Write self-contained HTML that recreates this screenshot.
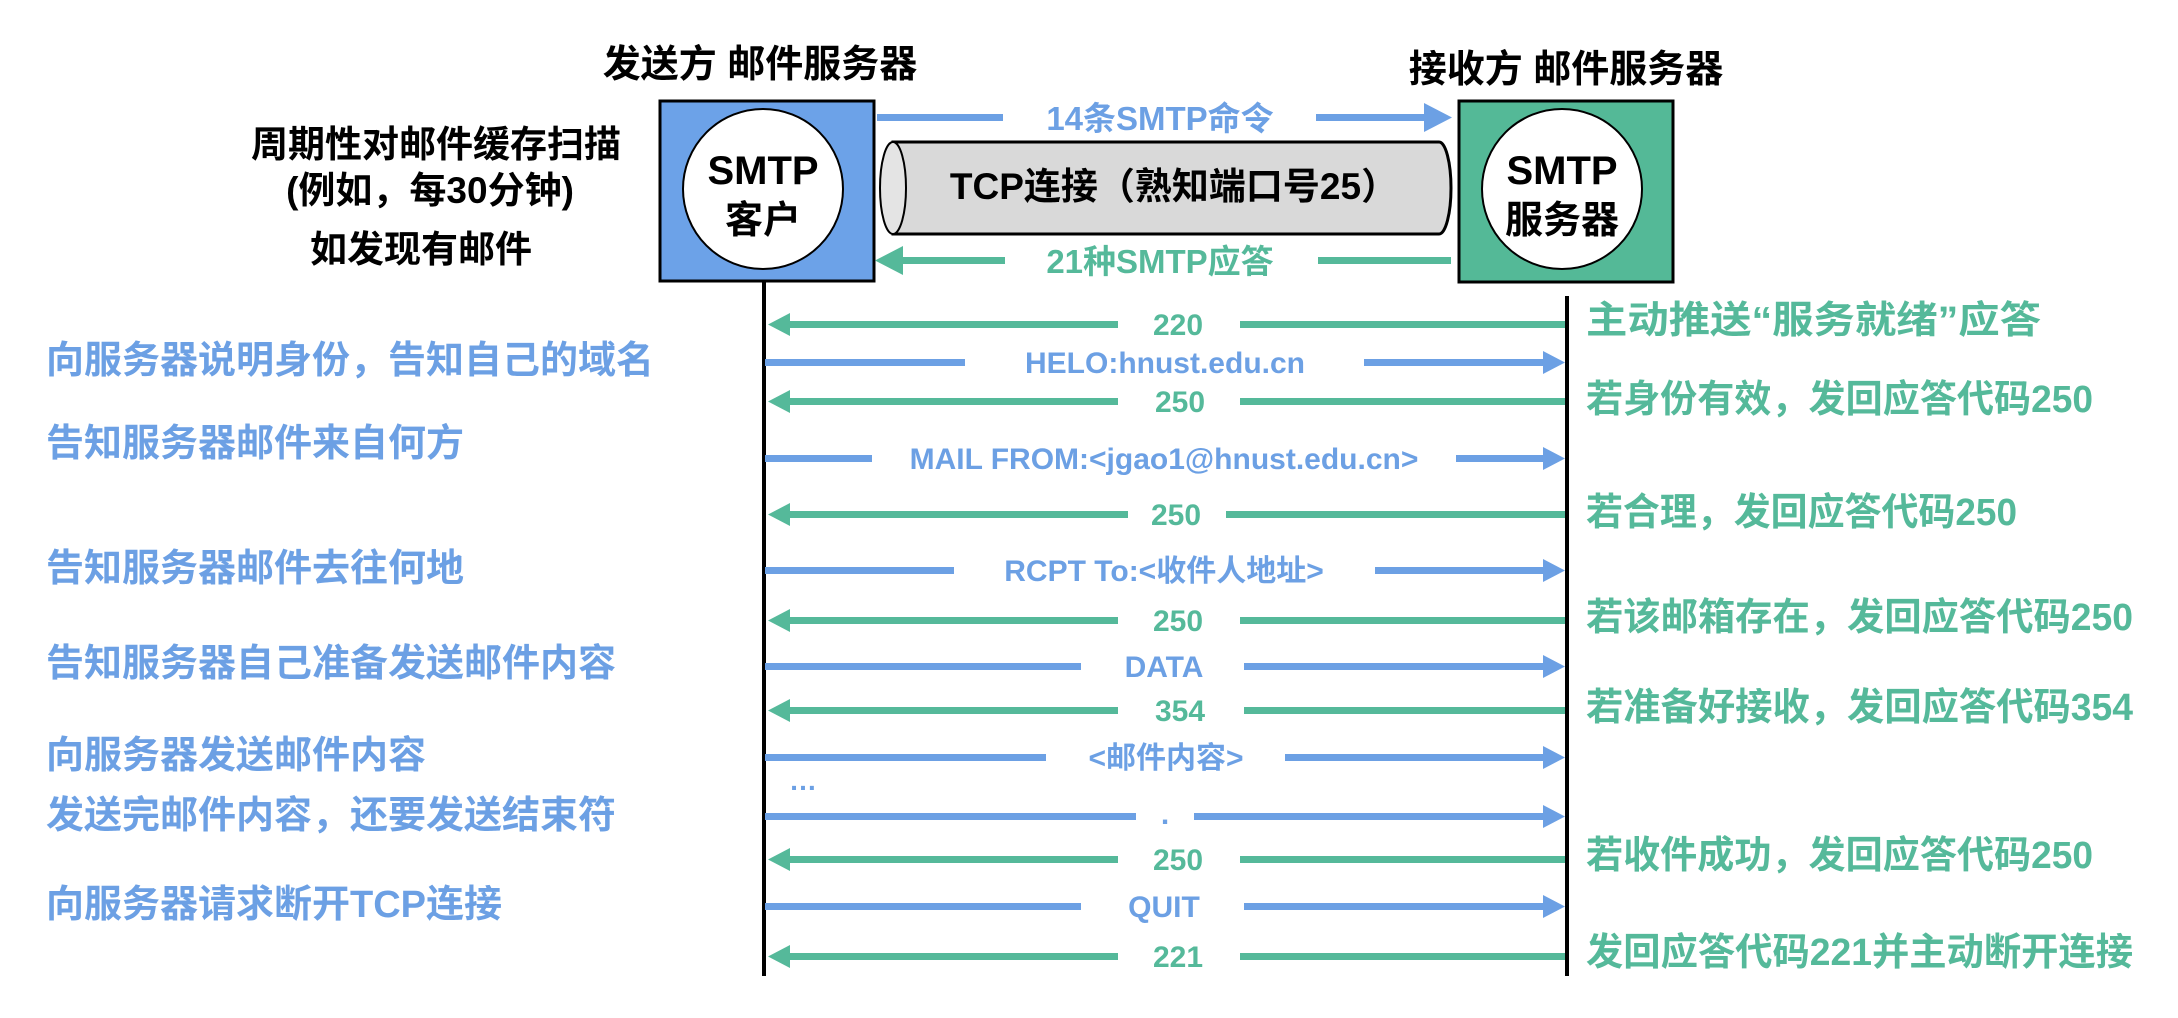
<!DOCTYPE html>
<html><head><meta charset="utf-8"><style>
html,body{margin:0;padding:0;background:#fff;}
svg{display:block;}
text{font-family:"Liberation Sans","Noto Sans CJK SC",sans-serif;font-weight:bold;}
</style></head><body>
<svg width="2178" height="1018" viewBox="0 0 2178 1018" xmlns="http://www.w3.org/2000/svg">
<!-- headers -->
<text x="760" y="77" font-size="38" text-anchor="middle" fill="#000">发送方  邮件服务器</text>
<text x="1566" y="82" font-size="38" text-anchor="middle" fill="#000">接收方  邮件服务器</text>
<text x="436" y="157" font-size="37" text-anchor="middle" fill="#000">周期性对邮件缓存扫描</text>
<text x="430" y="203" font-size="37" text-anchor="middle" fill="#000">(例如，每30分钟)</text>
<text x="421" y="262" font-size="37" text-anchor="middle" fill="#000">如发现有邮件</text>
<!-- boxes -->
<rect x="660" y="101" width="214" height="180" fill="#6CA2E8" stroke="#000" stroke-width="3"/>
<ellipse cx="763" cy="189" rx="80" ry="80" fill="#fff" stroke="#000" stroke-width="2"/>
<text x="763" y="184" font-size="40" text-anchor="middle" fill="#000">SMTP</text>
<text x="763" y="233" font-size="38" text-anchor="middle" fill="#000">客户</text>
<rect x="1459" y="101" width="214" height="181" fill="#54B997" stroke="#000" stroke-width="3"/>
<ellipse cx="1562" cy="189" rx="80" ry="80" fill="#fff" stroke="#000" stroke-width="2"/>
<text x="1562" y="184" font-size="40" text-anchor="middle" fill="#000">SMTP</text>
<text x="1562" y="233" font-size="38" text-anchor="middle" fill="#000">服务器</text>
<!-- cylinder -->
<path d="M893,142 L1439,142 A12,46 0 0 1 1439,234 L893,234 Z" fill="#d9d9d9" stroke="#000" stroke-width="3"/>
<ellipse cx="893" cy="188" rx="13" ry="46" fill="#e4e4e4" stroke="#000" stroke-width="2"/>
<text x="1174" y="199" font-size="37" text-anchor="middle" fill="#000">TCP连接（熟知端口号25）</text>
<!-- top arrows -->
<rect x="877" y="114" width="126" height="7" fill="#6CA0E4"/>
<rect x="1316" y="114" width="110" height="7" fill="#6CA0E4"/>
<polygon points="1452,117.5 1424,103 1424,132" fill="#6CA0E4"/>
<text x="1160" y="130" font-size="33" text-anchor="middle" fill="#6CA0E4">14条SMTP命令</text>
<rect x="900" y="257" width="105" height="7" fill="#55B99A"/>
<rect x="1318" y="257" width="133" height="7" fill="#55B99A"/>
<polygon points="875,260.5 903,246 903,275" fill="#55B99A"/>
<text x="1160" y="273" font-size="33" text-anchor="middle" fill="#55B99A">21种SMTP应答</text>
<!-- lifelines -->
<rect x="762" y="281" width="4" height="695" fill="#000"/>
<rect x="1565" y="296" width="4" height="680" fill="#000"/>
<!-- rows -->
<g font-size="30" text-anchor="middle">
<g fill="#55B99A">
<rect x="788" y="321" width="330" height="7"/><rect x="1240" y="321" width="325" height="7"/><polygon points="768,324.5 790,313 790,336"/><text x="1178" y="335">220</text>
<rect x="788" y="398" width="330" height="7"/><rect x="1240" y="398" width="325" height="7"/><polygon points="768,401.5 790,390 790,413"/><text x="1180" y="412">250</text>
<rect x="788" y="511" width="340" height="7"/><rect x="1226" y="511" width="339" height="7"/><polygon points="768,514.5 790,503 790,526"/><text x="1176" y="525">250</text>
<rect x="788" y="617" width="330" height="7"/><rect x="1240" y="617" width="325" height="7"/><polygon points="768,620.5 790,609 790,632"/><text x="1178" y="631">250</text>
<rect x="788" y="707" width="330" height="7"/><rect x="1244" y="707" width="321" height="7"/><polygon points="768,710.5 790,699 790,722"/><text x="1180" y="721">354</text>
<rect x="788" y="856" width="330" height="7"/><rect x="1240" y="856" width="325" height="7"/><polygon points="768,859.5 790,848 790,871"/><text x="1178" y="870">250</text>
<rect x="788" y="953" width="330" height="7"/><rect x="1240" y="953" width="325" height="7"/><polygon points="768,956.5 790,945 790,968"/><text x="1178" y="967">221</text>
</g>
<g fill="#6CA0E4">
<rect x="765" y="359" width="200" height="7"/><rect x="1364" y="359" width="180" height="7"/><polygon points="1565,362.5 1543,351 1543,374"/><text x="1165" y="373">HELO:hnust.edu.cn</text>
<rect x="765" y="455" width="107" height="7"/><rect x="1456" y="455" width="88" height="7"/><polygon points="1565,458.5 1543,447 1543,470"/><text x="1164" y="469">MAIL FROM:&lt;jgao1@hnust.edu.cn&gt;</text>
<rect x="765" y="567" width="189" height="7"/><rect x="1375" y="567" width="169" height="7"/><polygon points="1565,570.5 1543,559 1543,582"/><text x="1164" y="581">RCPT To:&lt;收件人地址&gt;</text>
<rect x="765" y="663" width="316" height="7"/><rect x="1244" y="663" width="300" height="7"/><polygon points="1565,666.5 1543,655 1543,678"/><text x="1164" y="677">DATA</text>
<rect x="765" y="754" width="281" height="7"/><rect x="1285" y="754" width="259" height="7"/><polygon points="1565,757.5 1543,746 1543,769"/><text x="1166" y="768">&lt;邮件内容&gt;</text>
<text x="803" y="790" font-size="28">…</text>
<rect x="765" y="813" width="371" height="7"/><rect x="1194" y="813" width="350" height="7"/><polygon points="1565,816.5 1543,805 1543,828"/><text x="1165" y="824">.</text>
<rect x="765" y="903" width="316" height="7"/><rect x="1244" y="903" width="300" height="7"/><polygon points="1565,906.5 1543,895 1543,918"/><text x="1164" y="917">QUIT</text>
</g>
</g>
<!-- left labels -->
<g font-size="38" fill="#6CA0E4">
<text x="46" y="373">向服务器说明身份，告知自己的域名</text>
<text x="46" y="456">告知服务器邮件来自何方</text>
<text x="46" y="581">告知服务器邮件去往何地</text>
<text x="46" y="676">告知服务器自己准备发送邮件内容</text>
<text x="46" y="768">向服务器发送邮件内容</text>
<text x="46" y="828">发送完邮件内容，还要发送结束符</text>
<text x="46" y="917">向服务器请求断开TCP连接</text>
</g>
<g font-size="38" fill="#55B99A">
<text x="1586" y="333" textLength="455" lengthAdjust="spacingAndGlyphs">主动推送“服务就绪”应答</text>
<text x="1586" y="412" textLength="507" lengthAdjust="spacingAndGlyphs">若身份有效，发回应答代码250</text>
<text x="1586" y="525" textLength="431" lengthAdjust="spacingAndGlyphs">若合理，发回应答代码250</text>
<text x="1586" y="630" textLength="547" lengthAdjust="spacingAndGlyphs">若该邮箱存在，发回应答代码250</text>
<text x="1586" y="720" textLength="547" lengthAdjust="spacingAndGlyphs">若准备好接收，发回应答代码354</text>
<text x="1586" y="868" textLength="507" lengthAdjust="spacingAndGlyphs">若收件成功，发回应答代码250</text>
<text x="1586" y="965" textLength="547" lengthAdjust="spacingAndGlyphs">发回应答代码221并主动断开连接</text>
</g>
</svg>
</body></html>
